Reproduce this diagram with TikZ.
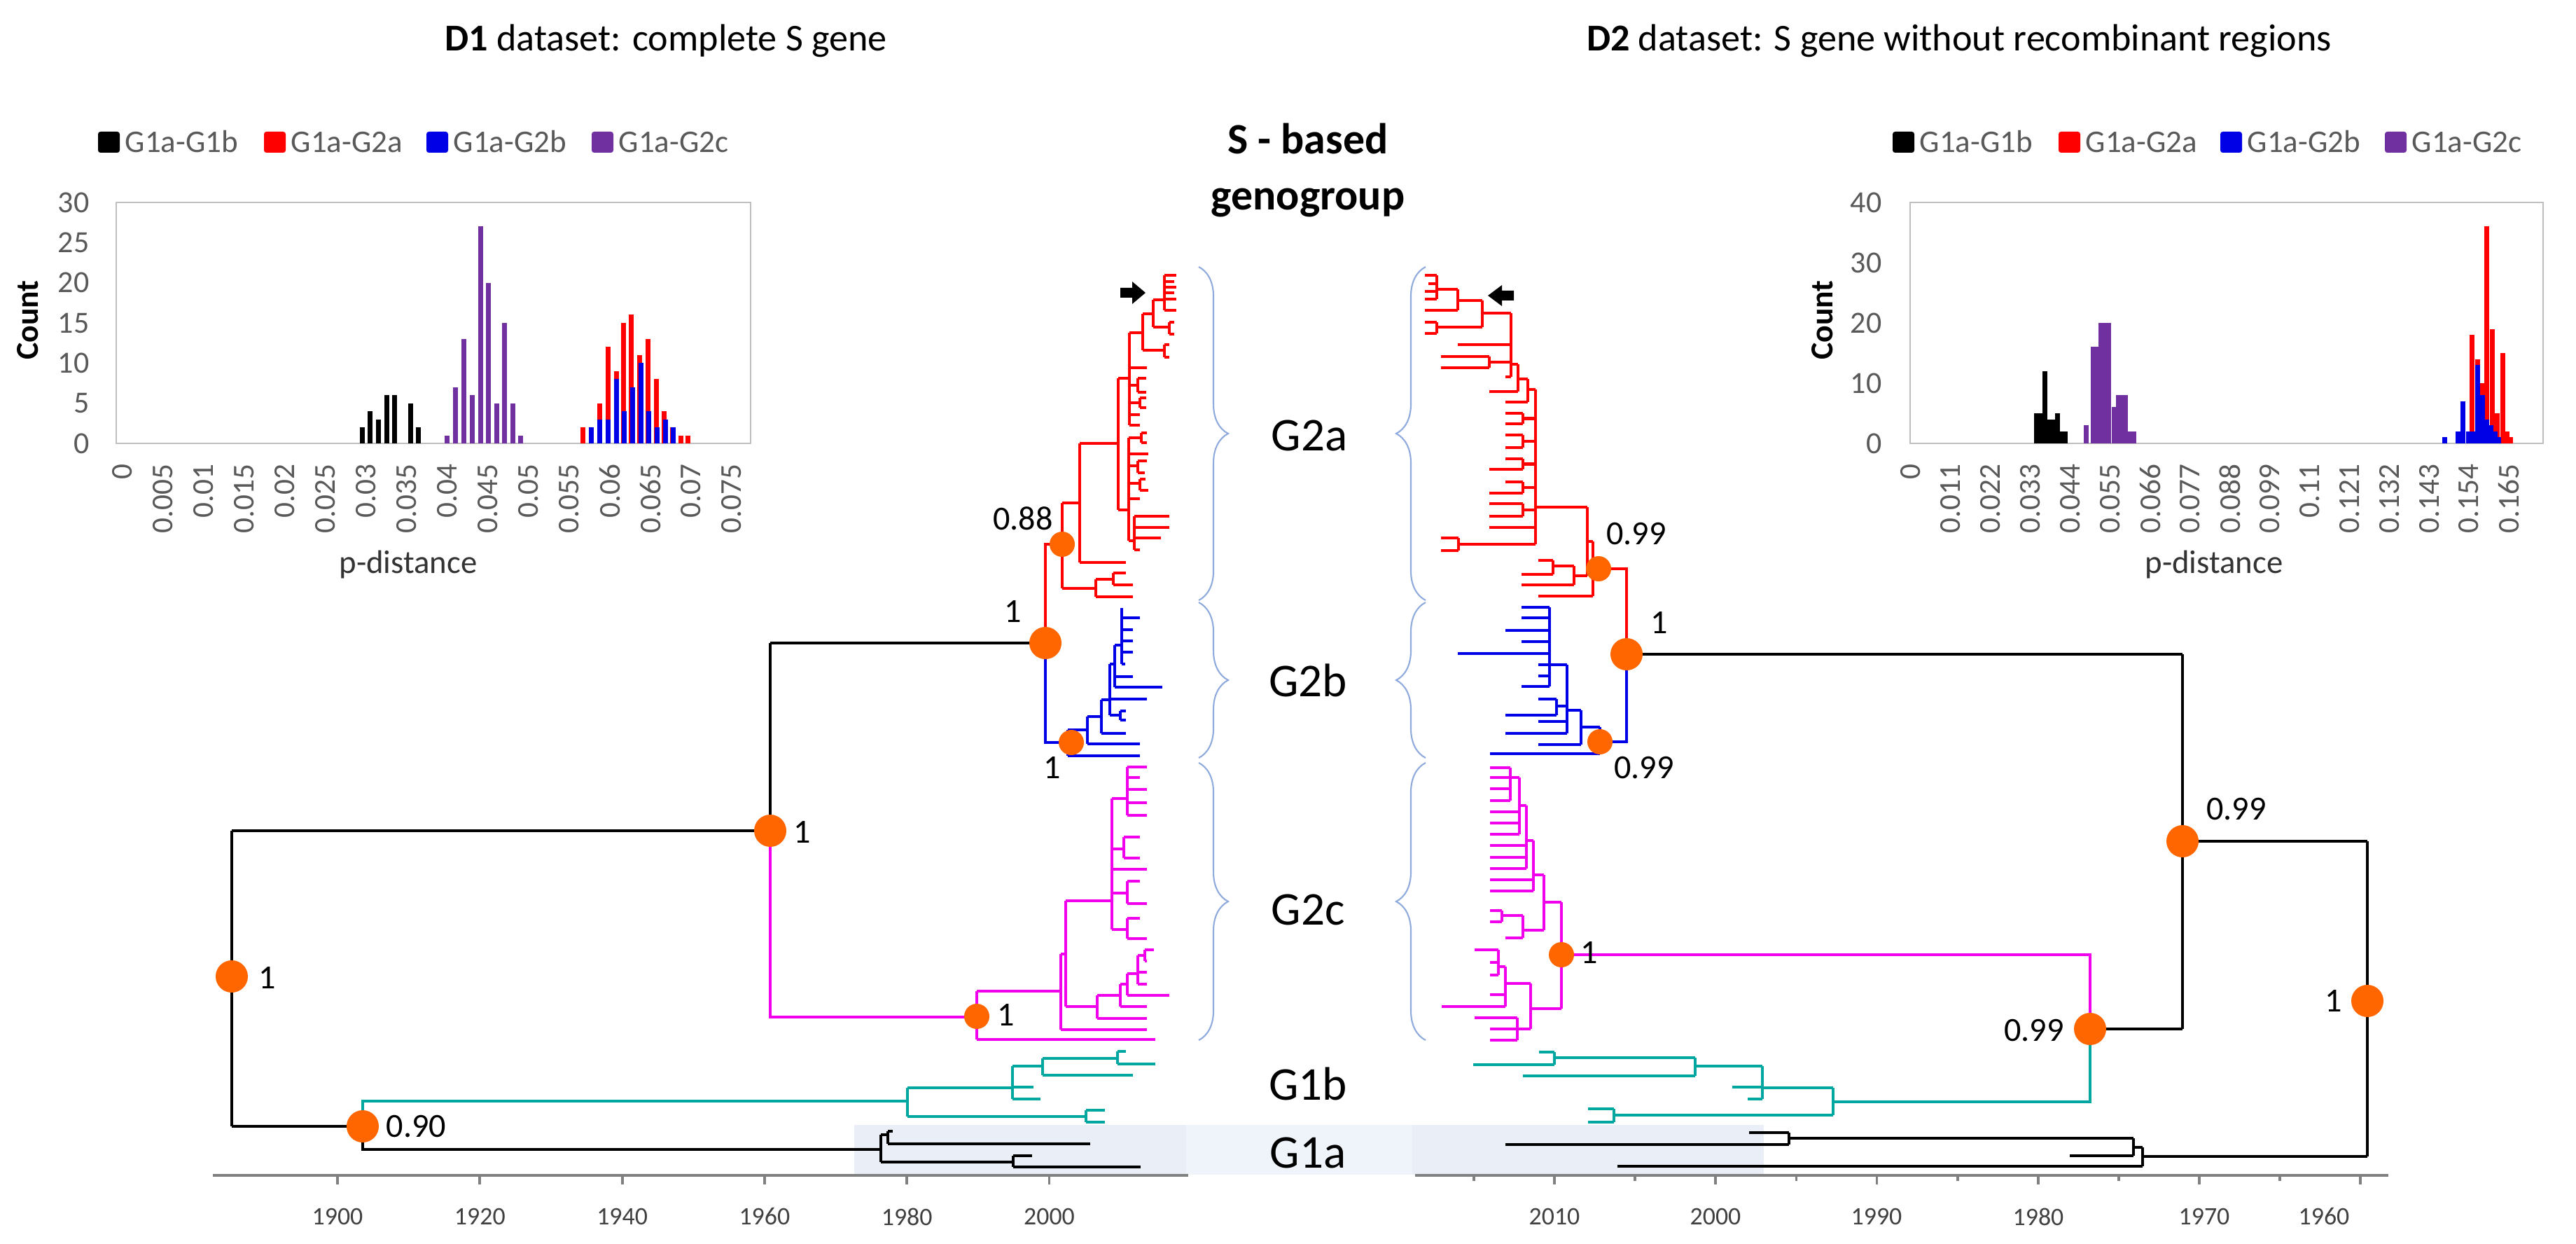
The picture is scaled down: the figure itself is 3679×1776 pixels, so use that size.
\documentclass[tikz,border=0pt]{standalone}
\usepackage{fontspec}
\setmainfont{Carlito}
\usepackage{tikz}
\usetikzlibrary{decorations.pathreplacing}
\definecolor{myorange}{RGB}{255,102,0}
\definecolor{myred}{RGB}{255,0,0}
\definecolor{myblue}{RGB}{0,0,230}
\definecolor{mypink}{RGB}{240,0,235}
\definecolor{mycyan}{RGB}{0,166,160}
\definecolor{mypurple}{RGB}{112,48,160}
\definecolor{mygray}{RGB}{89,89,89}
\definecolor{myaxis}{RGB}{128,128,128}
\definecolor{myframe}{RGB}{191,191,191}
\definecolor{mybrace}{RGB}{143,170,220}
\definecolor{myband}{RGB}{233,238,247}
\definecolor{myband2}{RGB}{239,243,250}
\newcommand{\fs}[1]{\fontsize{#1}{#1}\selectfont}
\tikzset{
  tree/.style={line width=1.15pt},
  bigdot/.style={circle, fill=myorange, inner sep=0, minimum size=0.46cm},
  smalldot/.style={circle, fill=myorange, inner sep=0, minimum size=0.36cm},
  bpp/.style={inner sep=0, font=\fs{13.7}},
  grp/.style={inner sep=0, font=\fs{19.1}},
  gbrace/.style={decorate, decoration={brace, amplitude=0.42cm}, mybrace, line width=0.6pt},
  axisline/.style={myaxis, line width=1.1pt},
  yrlab/.style={inner sep=0, font=\fs{10.2}, text=black!75},
  leglab/.style={anchor=base west, inner sep=0, font=\fs{12.8}, text=mygray},
  ylab/.style={anchor=east, inner sep=0, font=\fs{12.5}, text=mygray},
  xlab/.style={anchor=east, rotate=90, inner sep=0, font=\fs{12.3}, text=mygray}
}
\begin{document}
\begin{tikzpicture}[x=0.01cm, y=-0.01cm]
\useasboundingbox (0,0) rectangle (3679,1776);

% background band of G1a
\fill[myband] (1220,1606) rectangle (2519,1677);
\fill[myband2] (1694,1606) rectangle (2017,1677);

% titles
\node[anchor=base, font=\fs{15.4}] (t1) at (951,73) {\textbf{D1} dataset: complete S gene};
\node[anchor=base, font=\fs{15.4}] (t2) at (2798,73) {\textbf{D2} dataset: S gene without recombinant regions};
\node[anchor=base, font=\bfseries\fs{17.6}] (sg1) at (1868,220) {S - based};
\node[anchor=base, font=\bfseries\fs{17.6}] (sg2) at (1868,300) {genogroup};

% ---------- histogram D1 ----------
\foreach \c/\x/\t in {black/140/G1a-G1b, myred/377/G1a-G2a, myblue/609/G1a-G2b, mypurple/845/G1a-G2c} {
  \fill[\c, rounded corners=1pt] (\x,188) rectangle ({\x+31},218);
  \node[leglab] at ({\x+38},218) {\t};
}
\draw[myframe, line width=0.8pt] (166,289) rectangle (1072,633);
\foreach \x/\h in {517/2, 528/4, 540/3, 552/6, 563/6, 586/5, 597/2}
  \fill[black] ({\x-3.5},633) rectangle ({\x+3.5},{633-11.47*\h});
\foreach \x/\h in {638/1, 650/7, 662/13, 674/6, 686/27, 697/20, 709/5, 720/15, 732/5, 743/1}
  \fill[mypurple] ({\x-3.5},633) rectangle ({\x+3.5},{633-11.47*\h});
\foreach \x/\h in {832/2, 856/5, 868/12, 880/9, 890/15, 901/16, 913/11, 925/13, 937/8, 948/4, 960/2, 972/1, 982/1}
  \fill[myred] ({\x-3.5},633) rectangle ({\x+3.5},{633-11.47*\h});
\foreach \x/\h in {844/2, 856/3, 868/3, 880/8, 891/4, 903/7, 915/10, 926/4, 938/2, 950/3, 961/2}
  \fill[myblue] ({\x-3.5},633) rectangle ({\x+3.5},{633-11.47*\h});
\foreach \lab [count=\k from 0] in {0,5,10,15,20,25,30}
  \node[ylab] at (128,{633-57.33*\k}) {\lab};
\foreach \v [count=\i from 0] in {0,0.005,0.01,0.015,0.02,0.025,0.03,0.035,0.04,0.045,0.05,0.055,0.06,0.065,0.07,0.075}
  \node[xlab] at ({175+58*\i},662) {\v};
\node[rotate=90, inner sep=0, font=\bfseries\fs{13}] (cnt1) at (40,457) {Count};
\node[anchor=base, inner sep=0, font=\fs{13.3}, text=black!80] (pd1) at (583,818) {p-distance};

% ---------- histogram D2 ----------
\foreach \c/\x/\t in {black/2703/G1a-G1b, myred/2940/G1a-G2a, myblue/3171/G1a-G2b, mypurple/3406/G1a-G2c} {
  \fill[\c, rounded corners=1pt] (\x,188) rectangle ({\x+31},218);
  \node[leglab] at ({\x+38},218) {\t};
}
\draw[myframe, line width=0.8pt] (2728,289) rectangle (3632,633);
\foreach \x/\h in {2908/5, 2914/5, 2920/12, 2926/4, 2932/4, 2938/5, 2944/2, 2949/2}
  \fill[black] ({\x-3.5},633) rectangle ({\x+3.5},{633-8.6*\h});
\foreach \x/\h in {2979/3, 2989/16, 2995/16, 3000/20, 3005/20, 3011/20, 3019/6, 3025/8, 3030/8, 3035/8, 3041/2, 3047/2}
  \fill[mypurple] ({\x-3.5},633) rectangle ({\x+3.5},{633-8.6*\h});
\foreach \x/\h in {3530/18, 3538/14, 3545/10, 3551/36, 3559/19, 3566/5, 3574/15, 3580/2, 3585/1}
  \fill[myred] ({\x-3.5},633) rectangle ({\x+3.5},{633-8.6*\h});
\foreach \x/\h in {3491/1, 3510/2, 3517/7, 3525/2, 3532/2, 3538/13, 3545/8, 3551/4, 3557/3, 3563/2, 3568/1}
  \fill[myblue] ({\x-3.5},633) rectangle ({\x+3.5},{633-8.6*\h});
\foreach \lab [count=\k from 0] in {0,10,20,30,40}
  \node[ylab] at (2688,{633-86*\k}) {\lab};
\foreach \v [count=\i from 0] in {0,0.011,0.022,0.033,0.044,0.055,0.066,0.077,0.088,0.099,0.11,0.121,0.132,0.143,0.154,0.165}
  \node[xlab] at ({2729+56.93*\i},662) {\v};
\node[rotate=90, inner sep=0, font=\bfseries\fs{13}] (cnt2) at (2603,457) {Count};
\node[anchor=base, inner sep=0, font=\fs{13.3}, text=black!80] (pd2) at (3162,818) {p-distance};

% ---------- tree D1 ----------
\draw[tree]
  (331,1186) -- (331,1608)
  (331,1186) -- (1100,1186)
  (331,1608) -- (518,1608)
  (1100,918) -- (1100,1186)
  (1100,918) -- (1493,918);
% G2a
\draw[tree, myred]
  (1493,918) -- (1493,777) -- (1517,777)
  (1517,718) -- (1517,840)
  (1517,718) -- (1542,718)
  (1542,633) -- (1542,803)
  (1542,803) -- (1608,803)
  (1542,633) -- (1597,633)
  (1597,540) -- (1597,728)
  (1597,728) -- (1612,728)
  (1612,625) -- (1612,772)
  (1612,772) -- (1620,772)
  (1620,737) -- (1620,785)
  (1620,737) -- (1670,737) (1620,753) -- (1670,753) (1620,768) -- (1658,768) (1620,785) -- (1628,785)
  (1612,625) -- (1630,625) (1630,618) -- (1630,632) (1630,618) -- (1638,618) (1630,632) -- (1638,632)
  (1612,648) -- (1640,648)
  (1612,665) -- (1625,665) (1625,658) -- (1625,675) (1625,658) -- (1638,658) (1625,675) -- (1635,675)
  (1612,690) -- (1628,690) (1628,684) -- (1628,700) (1628,684) -- (1636,684) (1628,700) -- (1640,700)
  (1612,712) -- (1628,712)
  (1597,540) -- (1613,540)
  (1613,475) -- (1613,607)
  (1613,525) -- (1638,525)
  (1613,550) -- (1625,550) (1625,540) -- (1625,560) (1625,540) -- (1637,540) (1625,560) -- (1637,560)
  (1613,575) -- (1628,575) (1628,568) -- (1628,582) (1628,568) -- (1637,568) (1628,582) -- (1637,582)
  (1613,592) -- (1628,592)
  (1613,607) -- (1628,607)
  (1613,475) -- (1632,475)
  (1632,448) -- (1632,500)
  (1632,500) -- (1663,500) (1663,492) -- (1663,510) (1663,492) -- (1670,492) (1663,510) -- (1670,510)
  (1632,448) -- (1647,448)
  (1647,428) -- (1647,467)
  (1647,467) -- (1670,467) (1670,460) -- (1670,477) (1670,460) -- (1677,460) (1670,477) -- (1677,477)
  (1647,428) -- (1663,428)
  (1663,393) -- (1663,443)
  (1663,393) -- (1680,393) (1663,402) -- (1677,402) (1663,410) -- (1680,410) (1663,418) -- (1677,418)
  (1663,427) -- (1680,427) (1663,443) -- (1680,443)
  (1517,840) -- (1565,840)
  (1565,827) -- (1565,852)
  (1565,852) -- (1618,852)
  (1565,827) -- (1590,827)
  (1590,818) -- (1590,835)
  (1590,818) -- (1608,818) (1590,835) -- (1618,835);
% G2b
\draw[tree, myblue]
  (1493,918) -- (1493,1060) -- (1525,1060)
  (1525,1042) -- (1525,1079)
  (1525,1079) -- (1628,1079)
  (1525,1042) -- (1553,1042)
  (1553,1023) -- (1553,1062)
  (1553,1062) -- (1628,1062)
  (1553,1023) -- (1573,1023)
  (1573,999) -- (1573,1047)
  (1573,1047) -- (1608,1047)
  (1573,999) -- (1585,999)
  (1585,948) -- (1585,1021)
  (1585,1021) -- (1600,1021) (1600,1015) -- (1600,1028) (1600,1015) -- (1608,1015) (1600,1028) -- (1608,1028)
  (1585,998) -- (1638,998)
  (1585,948) -- (1592,948)
  (1592,921) -- (1592,981)
  (1592,981) -- (1660,981)
  (1592,966) -- (1618,966)
  (1592,921) -- (1602,921)
  (1602,868) -- (1602,948)
  (1602,882) -- (1628,882) (1602,899) -- (1618,899) (1602,915) -- (1618,915) (1602,931) -- (1618,931) (1602,948) -- (1607,948);
% G2c
\draw[tree, mypink]
  (1100,1186) -- (1100,1452) -- (1395,1452)
  (1395,1415) -- (1395,1484)
  (1395,1484) -- (1650,1484)
  (1395,1415) -- (1515,1415)
  (1515,1362) -- (1515,1470)
  (1515,1470) -- (1638,1470)
  (1515,1362) -- (1522,1362)
  (1522,1286) -- (1522,1437)
  (1522,1286) -- (1588,1286)
  (1522,1437) -- (1567,1437)
  (1567,1421) -- (1567,1454)
  (1567,1454) -- (1638,1454)
  (1567,1421) -- (1600,1421)
  (1600,1405) -- (1600,1437)
  (1600,1437) -- (1638,1437)
  (1600,1405) -- (1610,1405)
  (1610,1390) -- (1610,1421)
  (1610,1421) -- (1670,1421)
  (1610,1390) -- (1625,1390)
  (1625,1364) -- (1625,1405)
  (1625,1405) -- (1638,1405) (1625,1388) -- (1638,1388)
  (1625,1364) -- (1635,1364) (1635,1356) -- (1635,1372) (1635,1356) -- (1648,1356) (1635,1372) -- (1638,1372)
  (1588,1140) -- (1588,1327)
  (1588,1327) -- (1610,1327) (1610,1311) -- (1610,1340) (1610,1311) -- (1628,1311) (1610,1340) -- (1638,1340)
  (1588,1275) -- (1610,1275) (1610,1258) -- (1610,1290) (1610,1258) -- (1628,1258) (1610,1290) -- (1638,1290)
  (1588,1241) -- (1638,1241)
  (1588,1212) -- (1605,1212) (1605,1195) -- (1605,1225) (1605,1195) -- (1628,1195) (1605,1225) -- (1628,1225)
  (1588,1140) -- (1610,1140) (1610,1095) -- (1610,1164)
  (1610,1095) -- (1638,1095) (1610,1110) -- (1628,1110) (1610,1127) -- (1638,1127) (1610,1146) -- (1638,1146) (1610,1164) -- (1638,1164);
% G1b
\draw[tree, mycyan]
  (518,1608) -- (518,1572) -- (1296,1572)
  (1296,1553) -- (1296,1594)
  (1296,1594) -- (1551,1594)
  (1551,1585) -- (1551,1602)
  (1551,1585) -- (1578,1585) (1551,1602) -- (1578,1602)
  (1296,1553) -- (1446,1553)
  (1446,1522) -- (1446,1569)
  (1446,1569) -- (1486,1569)
  (1446,1552) -- (1476,1552)
  (1446,1522) -- (1489,1522)
  (1489,1511) -- (1489,1535)
  (1489,1535) -- (1618,1535)
  (1489,1511) -- (1596,1511)
  (1596,1501) -- (1596,1519)
  (1596,1501) -- (1608,1501) (1596,1519) -- (1650,1519);
% G1a
\draw[tree]
  (518,1608) -- (518,1641) -- (1258,1641)
  (1258,1620) -- (1258,1659)
  (1258,1620) -- (1268,1620)
  (1268,1615) -- (1268,1633)
  (1268,1615) -- (1275,1615) (1268,1633) -- (1557,1633)
  (1258,1659) -- (1447,1659)
  (1447,1650) -- (1447,1666)
  (1447,1650) -- (1474,1650) (1447,1666) -- (1629,1666);

% ---------- tree D2 ----------
\draw[tree]
  (3381,1201) -- (3381,1651)
  (3381,1201) -- (3117,1201)
  (3381,1651) -- (3060,1651)
  (3117,934) -- (3117,1469)
  (3117,934) -- (2323,934)
  (3117,1469) -- (2985,1469)
  (3060,1638) -- (3060,1665)
  (3060,1638) -- (3047,1638)
  (3047,1625) -- (3047,1650)
  (3047,1625) -- (2555,1625)
  (3047,1650) -- (2956,1650)
  (3060,1665) -- (2310,1665)
  (2555,1617) -- (2555,1634)
  (2555,1617) -- (2498,1617) (2555,1634) -- (2150,1634);
% G1b
\draw[tree, mycyan]
  (2985,1469) -- (2985,1573) -- (2618,1573)
  (2618,1553) -- (2618,1592)
  (2618,1592) -- (2305,1592)
  (2305,1583) -- (2305,1602)
  (2305,1583) -- (2268,1583) (2305,1602) -- (2268,1602)
  (2618,1553) -- (2517,1553)
  (2517,1522) -- (2517,1569)
  (2517,1569) -- (2496,1569) (2517,1552) -- (2474,1552)
  (2517,1522) -- (2421,1522)
  (2421,1510) -- (2421,1536)
  (2421,1536) -- (2175,1536)
  (2421,1510) -- (2220,1510)
  (2220,1502) -- (2220,1520)
  (2220,1502) -- (2198,1502) (2220,1520) -- (2104,1520);
% G2c
\draw[tree, mypink]
  (2985,1469) -- (2985,1363) -- (2230,1363)
  (2230,1288) -- (2230,1440)
  (2230,1440) -- (2186,1440)
  (2186,1404) -- (2186,1469)
  (2186,1404) -- (2150,1404)
  (2150,1380) -- (2150,1437)
  (2150,1437) -- (2059,1437) (2150,1420) -- (2128,1420)
  (2150,1380) -- (2140,1380)
  (2140,1356) -- (2140,1392)
  (2140,1356) -- (2106,1356) (2140,1374) -- (2128,1374) (2140,1392) -- (2128,1392)
  (2186,1469) -- (2167,1469)
  (2167,1453) -- (2167,1485)
  (2167,1453) -- (2106,1453) (2167,1469) -- (2128,1469) (2167,1485) -- (2128,1485)
  (2230,1288) -- (2205,1288)
  (2205,1249) -- (2205,1328)
  (2205,1328) -- (2175,1328)
  (2175,1307) -- (2175,1339)
  (2175,1307) -- (2145,1307) (2145,1300) -- (2145,1316) (2145,1300) -- (2128,1300) (2145,1316) -- (2128,1316)
  (2175,1339) -- (2150,1339)
  (2205,1249) -- (2190,1249)
  (2190,1200) -- (2190,1272)
  (2190,1272) -- (2128,1272) (2190,1256) -- (2128,1256)
  (2190,1200) -- (2180,1200)
  (2180,1150) -- (2180,1240)
  (2180,1240) -- (2128,1240) (2180,1224) -- (2128,1224) (2180,1207) -- (2128,1207)
  (2180,1150) -- (2170,1150)
  (2170,1110) -- (2170,1191)
  (2170,1191) -- (2128,1191) (2170,1175) -- (2128,1175) (2170,1159) -- (2128,1159)
  (2170,1110) -- (2157,1110)
  (2157,1096) -- (2157,1143)
  (2157,1096) -- (2128,1096) (2157,1110) -- (2128,1110) (2157,1126) -- (2128,1126) (2157,1143) -- (2128,1143);
% G2a
\draw[tree, myred]
  (2323,934) -- (2323,812) -- (2275,812)
  (2275,773) -- (2275,851)
  (2275,851) -- (2197,851)
  (2275,773) -- (2267,773)
  (2267,724) -- (2267,822)
  (2267,822) -- (2248,822)
  (2248,808) -- (2248,835)
  (2248,835) -- (2173,835)
  (2248,808) -- (2218,808)
  (2218,800) -- (2218,820)
  (2218,800) -- (2197,800) (2218,820) -- (2173,820)
  (2267,724) -- (2193,724)
  (2193,556) -- (2193,777)
  (2193,777) -- (2083,777)
  (2083,768) -- (2083,786)
  (2083,768) -- (2058,768) (2083,786) -- (2058,786)
  (2193,556) -- (2182,556)
  (2182,541) -- (2182,574)
  (2182,574) -- (2150,574)
  (2182,541) -- (2168,541)
  (2168,520) -- (2168,559)
  (2168,559) -- (2127,559)
  (2168,520) -- (2158,520)
  (2158,447) -- (2158,538)
  (2158,538) -- (2150,538)
  (2158,517) -- (2127,517)
  (2127,509) -- (2127,525)
  (2127,509) -- (2058,509) (2127,525) -- (2058,525)
  (2158,492) -- (2082,492)
  (2158,447) -- (2117,447)
  (2117,429) -- (2117,467)
  (2117,467) -- (2052,467)
  (2052,460) -- (2052,476)
  (2052,460) -- (2035,460) (2052,476) -- (2035,476)
  (2117,429) -- (2082,429)
  (2082,413) -- (2082,443)
  (2082,443) -- (2035,443)
  (2082,413) -- (2052,413)
  (2052,393) -- (2052,427)
  (2052,393) -- (2035,393) (2052,405) -- (2040,405) (2052,416) -- (2035,416) (2052,427) -- (2035,427)
  (2193,753) -- (2127,753);
\foreach \ya/\yb/\ea/\eb in {590/605/2150/2150, 621/639/2150/2150, 655/670/2150/2127, 688/704/2150/2127, 719/737/2127/2127}
  \draw[tree, myred] (2193,{(\ya+\yb)/2}) -- (2175,{(\ya+\yb)/2}) (2175,\ya) -- (2175,\yb)
    (2175,\ya) -- (\ea,\ya) (2175,\yb) -- (\eb,\yb);
% G2b
\draw[tree, myblue]
  (2323,934) -- (2323,1059) -- (2285,1059)
  (2285,1038) -- (2285,1076)
  (2285,1076) -- (2128,1076)
  (2285,1038) -- (2258,1038)
  (2258,1014) -- (2258,1063)
  (2258,1063) -- (2197,1063)
  (2258,1014) -- (2238,1014)
  (2238,949) -- (2238,1047)
  (2238,1047) -- (2150,1047) (2238,1030) -- (2197,1030)
  (2238,1008) -- (2223,1008)
  (2223,998) -- (2223,1021)
  (2223,998) -- (2197,998) (2223,1021) -- (2150,1021)
  (2238,949) -- (2213,949)
  (2213,867) -- (2213,980)
  (2213,867) -- (2173,867) (2213,882) -- (2173,882) (2213,900) -- (2150,900) (2213,916) -- (2173,916)
  (2213,933) -- (2082,933) (2213,949) -- (2197,949) (2213,965) -- (2197,965) (2213,980) -- (2173,980);

% marked sequences
\fill[black] (1600,411) -- (1617,411) -- (1617,402) -- (1636,418) -- (1617,434) -- (1617,425) -- (1600,425) -- cycle;
\fill[black] (2162,415) -- (2145,415) -- (2145,407) -- (2125,422) -- (2145,437) -- (2145,429) -- (2162,429) -- cycle;

% supported nodes, D1
\node[bigdot] (lroot) at (331,1394) {};
\node[bpp] (lroot-pp) at (382,1396) {1};
\node[bigdot] (lg2) at (1100,1186) {};
\node[bpp] (lg2-pp) at (1146,1188) {1};
\node[bigdot] (lg1) at (518,1608) {};
\node[bpp, anchor=west] (lg1-pp) at (551,1608) {0.90};
\node[bigdot] (lg2ab) at (1493,918) {};
\node[bpp] (lg2ab-pp) at (1447,873) {1};
\node[smalldot] (lg2a) at (1517,777) {};
\node[bpp] (lg2a-pp) at (1461,740) {0.88};
\node[smalldot] (lg2b) at (1530,1060) {};
\node[bpp] (lg2b-pp) at (1503,1096) {1};
\node[smalldot] (lg2c) at (1395,1451) {};
\node[bpp] (lg2c-pp) at (1437,1449) {1};

% supported nodes, D2
\node[bigdot] (rroot) at (3381,1429) {};
\node[bpp] (rroot-pp) at (3333,1429) {1};
\node[bigdot] (rg2) at (3117,1201) {};
\node[bpp] (rg2-pp) at (3194,1155) {0.99};
\node[bigdot] (rg1) at (2985,1469) {};
\node[bpp] (rg1-pp) at (2905,1471) {0.99};
\node[bigdot] (rg2ab) at (2323,934) {};
\node[bpp] (rg2ab-pp) at (2370,889) {1};
\node[smalldot] (rg2a) at (2283,812) {};
\node[bpp] (rg2a-pp) at (2337,762) {0.99};
\node[smalldot] (rg2b) at (2285,1059) {};
\node[bpp] (rg2b-pp) at (2348,1096) {0.99};
\node[smalldot] (rg2c) at (2230,1363) {};
\node[bpp] (rg2c-pp) at (2270,1360) {1};

% genogroups
\draw[gbrace] (1712,381) -- (1712,857);
\draw[gbrace] (1712,860) -- (1712,1082);
\draw[gbrace] (1712,1089) -- (1712,1485);
\draw[gbrace] (2036,857) -- (2036,381);
\draw[gbrace] (2036,1082) -- (2036,860);
\draw[gbrace] (2036,1485) -- (2036,1089);
\node[grp] (g2a) at (1870,622) {G2a};
\node[grp] (g2b) at (1868,971) {G2b};
\node[grp] (g2c) at (1868,1299) {G2c};
\node[grp] (g1b) at (1868,1547) {G1b};
\node[grp] (g1a) at (1868,1646) {G1a};

% time axes
\draw[axisline] (304,1678) -- (1697,1678);
\foreach \yr [count=\i from 0] in {1900,1920,1940,1960,1980,2000} {
  \draw[axisline] ({482+203.3*\i},1678) -- ({482+203.3*\i},1691);
  \node[yrlab] at ({482+203.3*\i},1737) {\yr};
}
\draw[axisline] (2021,1678) -- (3411,1678);
\foreach \i in {0,...,5} {
  \draw[axisline] ({2220+230.2*\i},1678) -- ({2220+230.2*\i},1691);
  \draw[axisline] ({2105+230.2*\i},1678) -- ({2105+230.2*\i},1686);
}
\foreach \yr/\x in {2010/2220, 2000/2450, 1990/2680, 1980/2911, 1970/3148, 1960/3319}
  \node[yrlab] at (\x,1737) {\yr};
\end{tikzpicture}
\end{document}
